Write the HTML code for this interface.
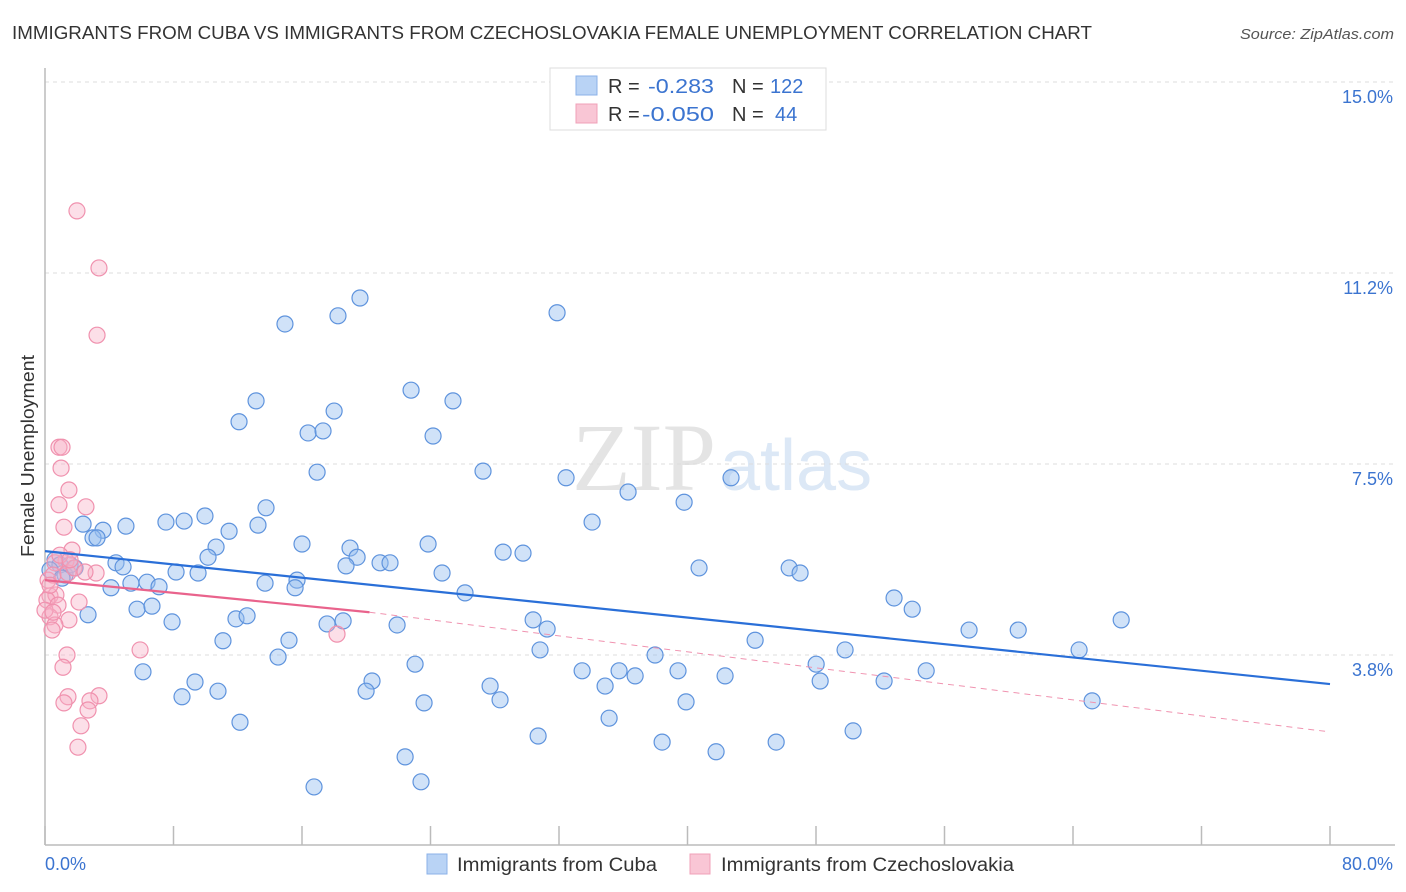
<!DOCTYPE html>
<html><head><meta charset="utf-8">
<style>
body{margin:0;background:#fff;font-family:"Liberation Sans",sans-serif;}
svg{display:block}
</style></head>
<body>
<svg id="chart" width="1406" height="892">
<text x="12" y="39" font-size="18" fill="#333" textLength="1080" lengthAdjust="spacingAndGlyphs">IMMIGRANTS FROM CUBA VS IMMIGRANTS FROM CZECHOSLOVAKIA FEMALE UNEMPLOYMENT CORRELATION CHART</text>
<text x="1240" y="39" font-size="15" fill="#555" font-style="italic" textLength="154" lengthAdjust="spacingAndGlyphs">Source: ZipAtlas.com</text>
<text x="716" y="490" font-size="96" fill="#e4e4e4" text-anchor="end" font-family="Liberation Serif,serif">ZIP</text>
<text x="720" y="490" font-size="72" fill="#dce8f6">atlas</text>
<text x="34" y="456" font-size="18" fill="#333" text-anchor="middle" textLength="202" lengthAdjust="spacingAndGlyphs" transform="rotate(-90 34 456)">Female Unemployment</text>
<g id="grid"></g>
<g id="axes"></g>
<g id="marks"></g>
<g>
<rect x="550" y="68" width="276" height="62" fill="#fff" stroke="#ddd"/>
<rect x="576" y="76" width="21" height="19" fill="#b9d3f5" stroke="#8bb2e8"/>
<rect x="576" y="104" width="21" height="19" fill="#f9c6d5" stroke="#f0a0b8"/>
<text x="608" y="93" font-size="20" fill="#333">R = </text><text x="648" y="93" font-size="20" fill="#3b74d0" textLength="66" lengthAdjust="spacingAndGlyphs">-0.283</text>
<text x="732" y="93" font-size="20" fill="#333">N = </text><text x="770" y="93" font-size="20" fill="#3b74d0">122</text>
<text x="608" y="121" font-size="20" fill="#333">R = </text><text x="642" y="121" font-size="20" fill="#3b74d0" textLength="72" lengthAdjust="spacingAndGlyphs">-0.050</text>
<text x="732" y="121" font-size="20" fill="#333">N = </text><text x="775" y="121" font-size="20" fill="#3b74d0">44</text>
</g>
<g>
<rect x="427" y="854" width="20" height="20" fill="#b9d3f5" stroke="#8bb2e8"/>
<text x="457" y="871" font-size="19" fill="#333" textLength="200" lengthAdjust="spacingAndGlyphs">Immigrants from Cuba</text>
<rect x="690" y="854" width="20" height="20" fill="#f9c6d5" stroke="#f0a0b8"/>
<text x="721" y="871" font-size="19" fill="#333" textLength="293" lengthAdjust="spacingAndGlyphs">Immigrants from Czechoslovakia</text>
</g>
</svg>
<script>
const yTicks=[15.0,11.25,7.5,3.75];
const yTickLabels=["15.0%","11.2%","7.5%","3.8%"];
const xTicks=[0,8,16,24,32,40,48,56,64,72,80];
const cubaX=[19.61,18.24,14.94,31.88,22.79,13.14,25.40,18.00,12.08,16.38,17.31,24.16,16.94,27.27,32.44,42.71,36.30,39.79,2.37,5.04,7.53,8.66,9.96,13.76,11.46,13.26,3.61,34.06,2.99,3.24,10.65,10.15,16.00,18.99,23.85,28.52,29.76,19.43,20.86,21.48,18.74,4.42,4.86,8.16,9.53,24.72,40.72,46.33,47.01,5.35,6.35,7.10,4.11,13.70,15.69,15.57,26.15,52.86,53.99,5.73,6.66,2.68,11.89,12.58,7.91,17.56,18.56,21.92,30.39,31.26,57.53,60.59,67.0,11.08,15.19,44.21,30.82,37.98,49.81,64.38,14.51,23.04,6.10,33.44,35.74,36.74,39.41,42.34,48.01,48.26,52.24,54.86,9.34,20.36,19.99,27.71,8.53,10.77,28.33,34.87,39.91,65.19,23.60,12.14,35.12,30.70,38.42,41.78,45.52,50.31,22.42,23.41,16.75,0.62,0.93,0.31,1.25,1.56,1.87,1.06];
const cubaY=[10.76,10.41,10.25,10.47,8.95,8.74,8.74,8.54,8.33,8.11,8.15,8.05,7.34,7.36,7.23,7.23,6.95,6.75,6.32,6.28,6.36,6.38,6.48,6.64,6.18,6.30,6.20,6.36,6.05,6.05,5.87,5.67,5.93,5.85,5.93,5.77,5.75,5.67,5.56,5.56,5.50,5.56,5.48,5.38,5.36,5.36,5.46,5.46,5.36,5.16,5.18,5.09,5.07,5.16,5.22,5.07,4.97,4.87,4.65,4.65,4.71,4.54,4.46,4.52,4.40,4.36,4.42,4.34,4.44,4.26,4.24,4.24,4.44,4.03,4.04,4.04,3.85,3.75,3.85,3.85,3.71,3.57,3.42,3.44,3.44,3.34,3.44,3.34,3.57,3.24,3.24,3.44,3.22,3.24,3.04,3.14,2.93,3.04,2.87,3.14,2.83,2.85,2.81,2.43,2.51,2.16,2.04,1.85,2.04,2.26,1.75,1.26,1.16,5.62,5.52,5.42,5.32,5.52,5.46,5.26];
const czechX=[1.99,3.36,3.24,0.87,1.06,1.00,1.49,2.55,0.87,1.18,1.68,1.31,0.62,0.19,0.50,1.43,1.81,3.18,0.31,0.68,0.12,0.81,2.12,0.31,1.49,0.62,0.44,1.37,1.12,5.92,18.18,1.43,3.36,1.18,2.80,2.68,2.24,2.05,0.93,1.56,0.31,0.0,0.50,2.49];
const czechY=[12.47,11.35,10.03,7.83,7.83,7.42,6.99,6.66,6.70,6.26,5.81,5.60,5.56,5.22,5.32,5.36,5.46,5.36,4.91,4.93,4.83,4.73,4.79,4.50,4.44,4.34,4.24,3.75,3.51,3.85,4.16,2.93,2.95,2.81,2.85,2.67,2.36,1.94,5.71,5.62,5.12,4.63,4.59,5.38];
const cubaTrend=[5.79,3.18];
const czechTrend=[5.22,4.59,2.24];
const czechSolidEnd=20.2;

const NS="http://www.w3.org/2000/svg";
const X0=45,X1=1330,Y0=846,PPY=50.93;
function sx(v){return X0+(X1-X0)*v/80;}
function sy(v){return Y0-v*PPY;}
function mk(tag,attrs,parent){const e=document.createElementNS(NS,tag);for(const k in attrs)e.setAttribute(k,attrs[k]);parent.appendChild(e);return e;}
const grid=document.getElementById('grid'),axes=document.getElementById('axes'),marks=document.getElementById('marks');
yTicks.forEach((t,i)=>{
  const l=mk('line',{x1:X0,x2:1395,y1:sy(t),y2:sy(t),stroke:'#ddd','stroke-dasharray':'4,4'},grid);
  
  
  const tx=mk('text',{x:1393,y:sy(t)+21,'font-size':18,fill:'#3b74d0','text-anchor':'end'},axes);
  tx.textContent=yTickLabels[i];
  
  
});
const ax=mk('line',{x1:X0,x2:1395,y1:845,y2:845,stroke:'#bbb','stroke-width':1.5},axes);


const ay=mk('line',{x1:X0,x2:X0,y1:68,y2:845,stroke:'#bbb','stroke-width':1.5},axes);


xTicks.forEach(t=>{
  const l=mk('line',{x1:sx(t),x2:sx(t),y1:826,y2:845,stroke:'#bbb','stroke-width':1.5},axes);
  
  
});
const xl0=mk('text',{x:45,y:870,'font-size':18,fill:'#3b74d0'},axes);xl0.textContent='0.0%';


const xl1=mk('text',{x:1393,y:870,'font-size':18,fill:'#3b74d0','text-anchor':'end'},axes);xl1.textContent='80.0%';



cubaX.forEach((v,i)=>{
  const c=mk('circle',{cx:sx(v),cy:sy(cubaY[i]),r:8,fill:'rgba(150,190,240,0.45)',stroke:'#5e93dd','stroke-width':1.2},marks);
  
  
});
czechX.forEach((v,i)=>{
  const c=mk('circle',{cx:sx(v),cy:sy(czechY[i]),r:8,fill:'rgba(248,175,198,0.4)',stroke:'#f091ae','stroke-width':1.2},marks);
  
  
});
const tb=mk('line',{x1:sx(0),y1:sy(cubaTrend[0]),x2:sx(80),y2:sy(cubaTrend[1]),stroke:'#2a6fd8','stroke-width':2.2},marks);


const tp=mk('line',{x1:sx(0),y1:sy(czechTrend[0]),x2:sx(czechSolidEnd),y2:sy(czechTrend[1]),stroke:'#e9638c','stroke-width':2.2},marks);


const tpd=mk('line',{x1:sx(czechSolidEnd),y1:sy(czechTrend[1]),x2:sx(80),y2:sy(czechTrend[2]),stroke:'#f093b0','stroke-width':1,'stroke-dasharray':'6,5'},marks);


</script>
</body></html>
